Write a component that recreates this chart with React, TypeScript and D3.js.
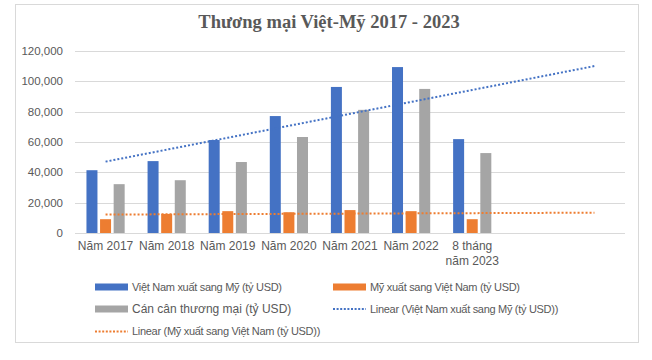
import React from 'react';
import * as d3 from 'd3';

const categories = ['Năm 2017', 'Năm 2018', 'Năm 2019', 'Năm 2020', 'Năm 2021', 'Năm 2022', '8 tháng\nnăm 2023'];
const vnToUs = [41400, 47400, 61300, 77100, 96300, 109400, 61900];
const usToVn = [9100, 12600, 14400, 13700, 15100, 14400, 9100];
const balance = [32200, 34800, 46800, 63300, 81200, 95000, 52700];
const yTicks = [0, 20000, 40000, 60000, 80000, 100000, 120000];
const forecastForward = 2;

const seriesNames = ['Việt Nam xuất sang Mỹ (tỷ USD)', 'Mỹ xuất sang Việt Nam (tỷ USD)', 'Cán cân thương mại (tỷ USD)'];
const colors = ['#4472C4', '#ED7D31', '#A5A5A5'];

const W = 652;
const H = 360;
const margin = { top: 51, left: 75, right: 27, bottom: 127 };

// least squares fit over x = 1..n, like Excel's linear trendline
const linearFit = (vals: number[]) => {
  const xs = vals.map((_, i) => i + 1);
  const mx = d3.mean(xs)!;
  const my = d3.mean(vals)!;
  const slope = d3.sum(xs, (x, i) => (x - mx) * (vals[i] - my)) / d3.sum(xs, (x) => (x - mx) ** 2);
  return (x: number) => my + slope * (x - mx);
};

export default function App() {
  const iw = W - margin.left - margin.right;
  const ih = H - margin.top - margin.bottom;
  const nSlots = categories.length + forecastForward;

  const x = d3.scaleBand<number>().domain(d3.range(nSlots)).range([0, iw]);
  const y = d3.scaleLinear().domain([0, 120000]).range([ih, 0]);
  const bw = 11;
  const gap = 2.6;
  const groupW = bw * 3 + gap * 2;

  const series = [vnToUs, usToVn, balance];
  const trends = [vnToUs, usToVn].map((vals) => {
    const f = linearFit(vals);
    return d3.range(1, nSlots + 1).map((k) => [x(k - 1)! + x.bandwidth() / 2, y(f(k))] as [number, number]);
  });
  const line = d3.line();
  const fmt = d3.format(',');

  const font = "'Liberation Sans', Arial, sans-serif";
  const textColor = '#595959';

  const legend = [
    { kind: 'rect', color: colors[0], label: seriesNames[0], x: 95, y: 287, size: 11 },
    { kind: 'rect', color: colors[1], label: seriesNames[1], x: 333, y: 287, size: 11 },
    { kind: 'rect', color: colors[2], label: seriesNames[2], x: 95, y: 309, size: 12 },
    { kind: 'line', color: colors[0], label: 'Linear (' + seriesNames[0] + ')', x: 333, y: 309, size: 11 },
    { kind: 'line', color: colors[1], label: 'Linear (' + seriesNames[1] + ')', x: 95, y: 331.5, size: 11 },
  ];

  return (
    <div style={{ position: 'absolute', left: 0, top: 0 }}>
      <svg width={W} height={H} style={{ display: 'block', background: '#fff' }}>
        <rect x={15.5} y={4.5} width={623} height={338} fill="#fff" stroke="#D9D9D9" />
        <text x={329} y={28} textAnchor="middle" fontFamily="'Liberation Serif', 'Times New Roman', serif" fontWeight="bold" fontSize={18.5} fill={textColor}>
          Thương mại Việt-Mỹ 2017 - 2023
        </text>
        <g transform={`translate(${margin.left},${margin.top})`}>
          {yTicks.map((t) => (
            <g key={t}>
              <line x1={0} x2={iw} y1={Math.round(y(t)) + 0.5} y2={Math.round(y(t)) + 0.5} stroke="#D9D9D9" />
              <text x={-12} y={y(t)} dy="0.35em" textAnchor="end" fontFamily={font} fontSize={11.5} fill={textColor}>
                {fmt(t)}
              </text>
            </g>
          ))}
          {series.map((vals, s) => (
            <g key={s}>
              {vals.map((v, i) => (
                <rect
                  key={i}
                  x={x(i)! + (x.bandwidth() - groupW) / 2 + s * (bw + gap)}
                  y={y(v)}
                  width={bw}
                  height={ih - y(v)}
                  fill={colors[s]}
                />
              ))}
            </g>
          ))}
          {trends.map((pts, s) => (
            <path key={s} d={line(pts)!} fill="none" stroke={colors[s]} strokeWidth={2} strokeDasharray="2 2" />
          ))}
          {categories.map((c, i) => (
            <text key={i} x={x(i)! + x.bandwidth() / 2} y={ih + 17} textAnchor="middle" fontFamily={font} fontSize={12} fill={textColor}>
              {c.split('\n').map((ln, k) => (
                <tspan key={k} x={x(i)! + x.bandwidth() / 2} dy={k === 0 ? 0 : 15}>
                  {ln}
                </tspan>
              ))}
            </text>
          ))}
        </g>
        {legend.map((d, i) => (
          <g key={i}>
            {d.kind === 'rect' ? (
              <rect x={d.x} y={d.y - 3.5} width={33} height={7} fill={d.color} />
            ) : (
              <line x1={d.x} x2={d.x + 33} y1={d.y} y2={d.y} stroke={d.color} strokeWidth={2} strokeDasharray="2 1.6" />
            )}
            <text x={d.x + 37} y={d.y} dy="0.35em" fontFamily={font} fontSize={d.size} letterSpacing={d.size === 11 ? -0.3 : 0} fill={textColor}>
              {d.label}
            </text>
          </g>
        ))}
      </svg>
    </div>
  );
}
